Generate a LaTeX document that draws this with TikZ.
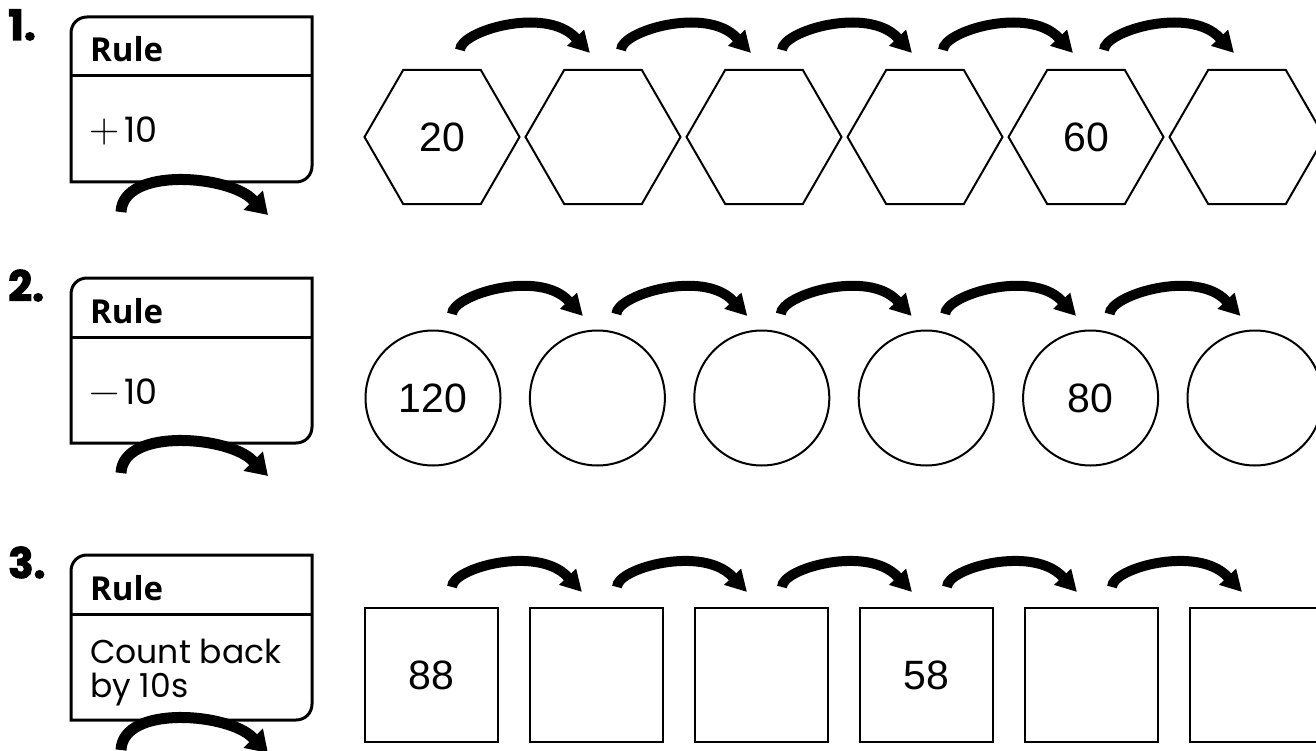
\documentclass[tikz,border=0pt]{standalone}
\usepackage{fontspec}
\setmainfont{Liberation Sans}
\newfontfamily\rulefont{Open Sans}
\newfontfamily\geofont{Poppins}
\newfontfamily\headfont{Poppins}[FakeBold=2.5]
\newfontfamily\lmfont{Latin Modern Roman}
\usetikzlibrary{shapes.geometric,arrows.meta,calc}
\newcommand\ruleoutline[1]{%
  \draw[boxline] (#1.south west) -- ($(#1.north west)+(0,16)$)
    .. controls ($(#1.north west)+(0,7)$) and ($(#1.north west)+(7,0)$) .. ($(#1.north west)+(16,0)$)
    -- (#1.north east) -- ($(#1.south east)+(0,-16)$)
    .. controls ($(#1.south east)+(0,-7)$) and ($(#1.south east)+(-7,0)$) .. ($(#1.south east)+(-16,0)$)
    -- cycle;
  \draw[boxline] ($(#1.north west)+(0,59)$) -- ($(#1.north east)+(0,59)$);
}
% jump arc: #1 start, #2 tip; shaft ends 21pt before the tip
\newcommand\jumparc[3][jump]{%
  \draw[#1] (#2) .. controls ($(#2)+(0,-19)$) and ($(#3)+(-44.4,-47.2)$) .. ($(#3)+(-14.4,-15.2)$) -- (#3);
}
\newcommand\bigarc[2]{%
  \draw[bigjump] (#1) .. controls ($(#1)+(2,-46)$) and ($(#2)+(-37.8,-39.8)$) .. ($(#2)+(-14.8,-14.8)$) -- (#2);
}
\begin{document}
\begin{tikzpicture}[x=1pt,y=-1pt,
  boxline/.style={line width=3pt, line join=miter},
  rulebox/.style={minimum width=241pt, minimum height=165pt, inner sep=0pt, outer sep=0pt},
  shapeline/.style={draw, line width=2pt, inner sep=0pt, font=\fontsize{41}{41}\selectfont},
  hexa/.style={shapeline, regular polygon, regular polygon sides=6, minimum size=155pt},
  circ/.style={shapeline, circle, minimum size=135pt},
  sq/.style={shapeline, rectangle, minimum width=133pt, minimum height=134pt},
  jump/.style={line width=10pt, -{Triangle[length=21pt,width=22pt]}},
  bigjump/.style={line width=11pt, -{Triangle[length=21pt,width=26pt]}},
  head/.style={anchor=base west, inner sep=0pt, font=\headfont\bfseries\fontsize{42}{42}\selectfont},
  ruletitle/.style={anchor=base west, inner sep=0pt, font=\rulefont\bfseries\fontsize{33}{33}\selectfont},
  ruletext/.style={anchor=base west, inner sep=0pt, font=\geofont\fontsize{33}{33}\selectfont},
  ruleop/.style={anchor=base west, inner sep=0pt, font=\geofont\fontsize{35}{35}\selectfont}
]
\useasboundingbox (0,0) rectangle (1316,751);
\clip (0,0) rectangle (1316,751);

% ---------- Row 1 ----------
\node[head] (n1) at (8,40) {1.};
\node[rulebox] (r1) at (191.5,99.5) {};
\ruleoutline{r1}
\node[ruletitle] (r1t) at ($(r1.north west)+(19,45)$) {Rule};
\node[ruleop] (r1x) at ($(r1.north west)+(18,126)$) {{\lmfont\fontsize{42}{42}\selectfont +}\kern5pt10};
\coordinate (r1a) at ($(r1.south)+(-70.5,30)$);
\coordinate (r1b) at ($(r1.south)+(76.5,33)$);
\bigarc{r1a}{r1b}

\foreach \t [count=\i] in {20,,,,60,} \node[hexa] (h\i) at ({442+161*(\i-1)},137) {\t};
\foreach \i [evaluate=\i as \j using int(\i+1)] in {1,...,5} {
  \coordinate (h\i s) at ($(h\i)+(18,-87)$);
  \coordinate (h\j t) at ($(h\j)+(-13,-84)$);
  \jumparc{h\i s}{h\j t}
}

% ---------- Row 2 ----------
\node[head] (n2) at (8,301) {2.};
\node[rulebox] (r2) at (191.5,360.5) {};
\ruleoutline{r2}
\node[ruletitle] (r2t) at ($(r2.north west)+(19,45)$) {Rule};
\node[ruleop] (r2x) at ($(r2.north west)+(18,126)$) {{\lmfont\fontsize{42}{42}\selectfont −}\kern5pt10};
\coordinate (r2a) at ($(r2.south)+(-70.5,30)$);
\coordinate (r2b) at ($(r2.south)+(76.5,33)$);
\bigarc{r2a}{r2b}

\foreach \t [count=\i] in {120,,,,80,} \node[circ] (c\i) at ({433+164.4*(\i-1)},398) {\t};
\foreach \i [evaluate=\i as \j using int(\i+1)] in {1,...,5} {
  \coordinate (c\i s) at ($(c\i)+(19,-84)$);
  \coordinate (c\j t) at ($(c\j)+(-14.5,-82)$);
  \jumparc{c\i s}{c\j t}
}

% ---------- Row 3 ----------
\node[head] (n3) at (8,578) {3.};
\node[rulebox] (r3) at (191.5,637.5) {};
\ruleoutline{r3}
\node[ruletitle] (r3t) at ($(r3.north west)+(19,45)$) {Rule};
\node[ruletext] (r3x) at ($(r3.north west)+(19,108)$) {Count back};
\node[ruletext] (r3y) at ($(r3.north west)+(19,142)$) {by 10s};
\coordinate (r3a) at ($(r3.south)+(-70.5,30)$);
\coordinate (r3b) at ($(r3.south)+(76.5,33)$);
\bigarc{r3a}{r3b}

\foreach \t [count=\i] in {88,,,58,,} \node[sq] (s\i) at ({431.5+165*(\i-1)},675) {\t};
\foreach \i [evaluate=\i as \j using int(\i+1)] in {1,...,5} {
  \coordinate (s\i s) at ($(s\i)+(20.5,-88)$);
  \coordinate (s\j t) at ($(s\j)+(-14.5,-83)$);
  \jumparc{s\i s}{s\j t}
}
\end{tikzpicture}
\end{document}
